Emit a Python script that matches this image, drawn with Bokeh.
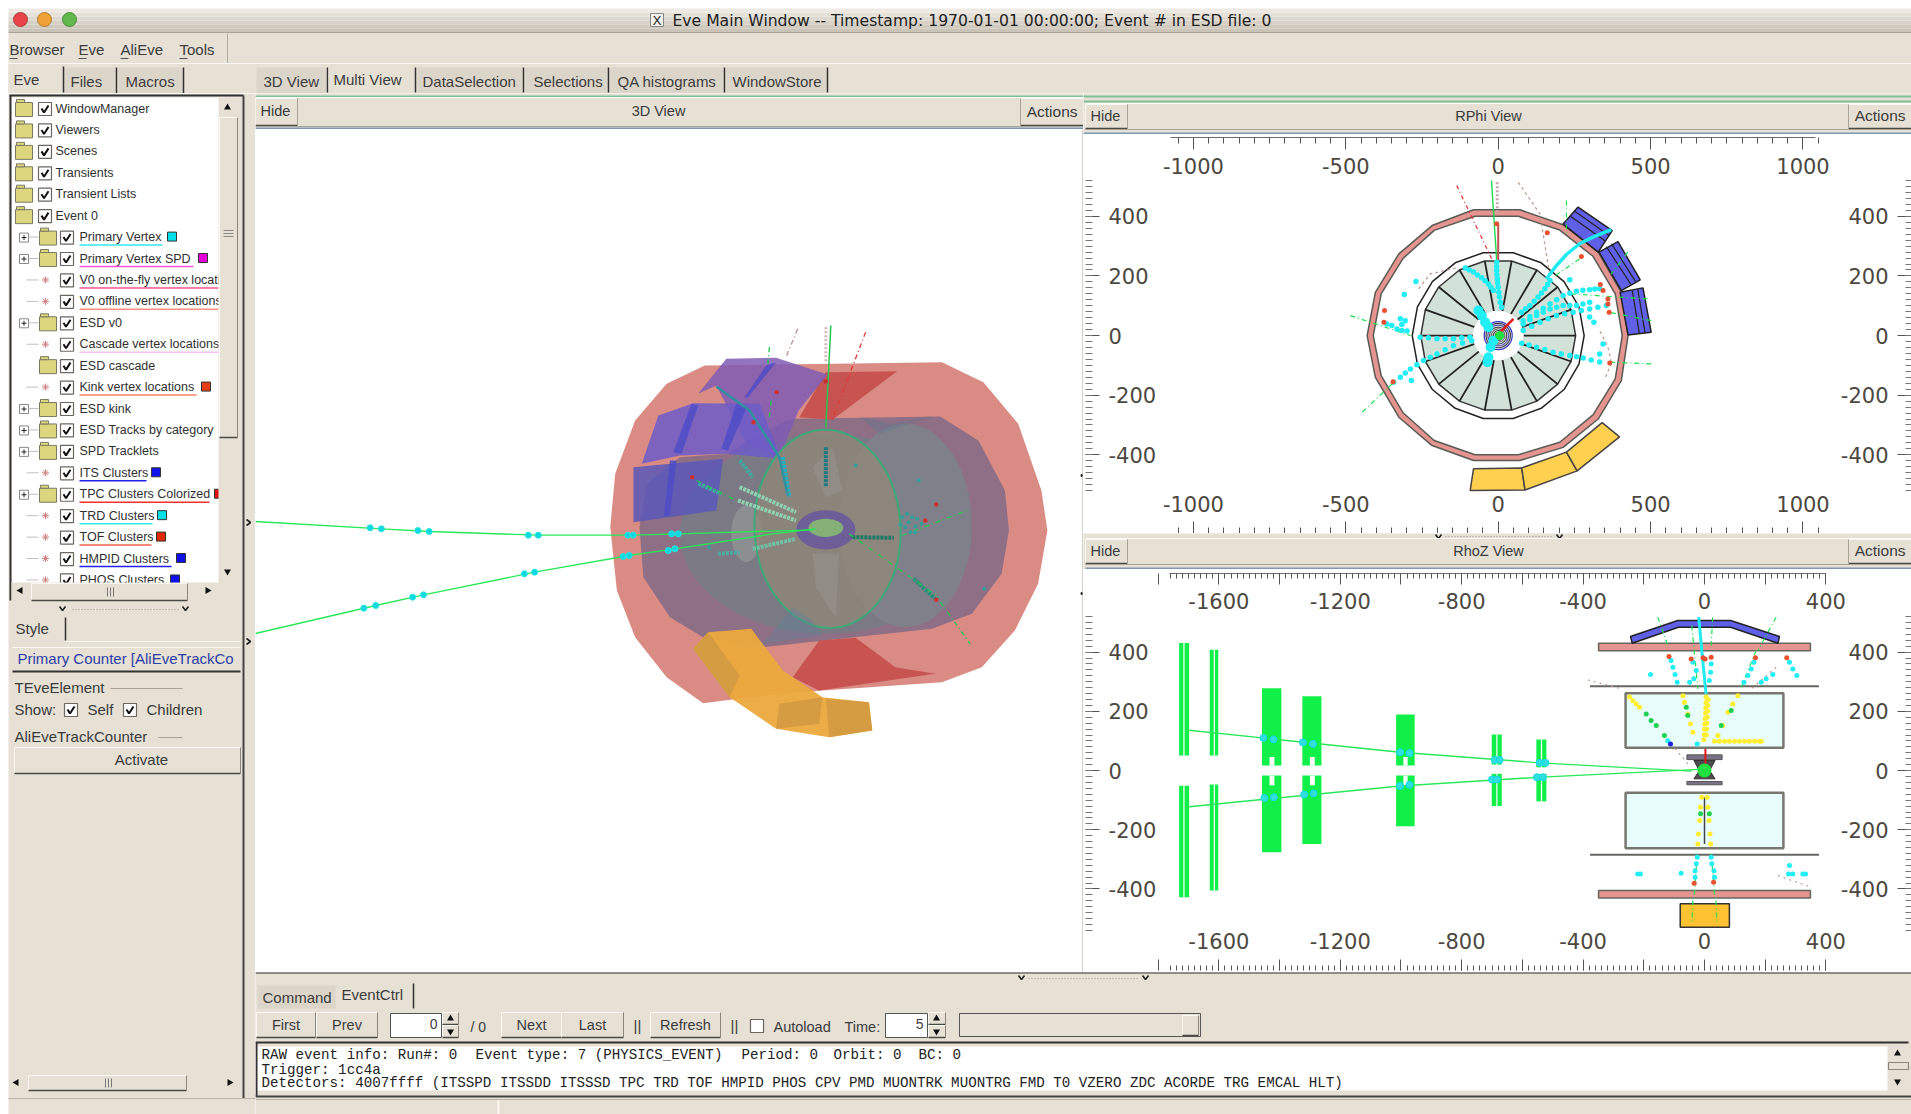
from bokeh.core.properties import value
from bokeh.embed import file_html
from bokeh.layouts import column, row
from bokeh.models import FixedTicker, LinearAxis, Range1d
from bokeh.plotting import figure
from bokeh.resources import INLINE
import numpy as np

# ---- window texts
window_title = "Eve Main Window -- Timestamp: 1970-01-01 00:00:00; Event # in ESD file: 0"
menu_items = ["Browser", "Eve", "AliEve", "Tools"]
left_tabs = ["Eve", "Files", "Macros"]
main_tabs = ["3D View", "Multi View", "DataSelection", "Selections", "QA histograms", "WindowStore"]
tree_labels = ["WindowManager", "Viewers", "Scenes", "Transients", "Transient Lists", "Event 0",
               "Primary Vertex", "Primary Vertex SPD", "V0 on-the-fly vertex location",
               "V0 offline vertex locations", "ESD v0", "Cascade vertex locations", "ESD cascade",
               "Kink vertex locations", "ESD kink", "ESD Tracks by category", "SPD Tracklets",
               "ITS Clusters", "TPC Clusters Colorized", "TRD Clusters", "TOF Clusters",
               "HMPID Clusters", "PHOS Clusters"]
# 0 top level, 1 folder with plus, 2 leaf, 3 folder without plus
tree_kinds = [0, 0, 0, 0, 0, 0, 1, 1, 2, 2, 1, 2, 3, 2, 1, 1, 1, 2, 1, 2, 2, 2, 2]
tree_lines = [None, None, None, None, None, None, "#30e8f0", "#ff50e0", "#ff5090", "#ff9080", None,
              "#ffc0f0", None, "#ff8060", None, None, None, "#2020f0", "#f03030", "#30e8f0",
              "#f06050", "#2020f0", "#2020f0"]
tree_ends = [0, 0, 0, 0, 0, 0, 162, 193, 218, 218, 0, 218, 0, 196, 0, 0, 0, 146, 209, 152, 151, 171, 165]
tree_swatches = [None, None, None, None, None, None, "#00e0e8", "#e800d8", None, None, None,
                 None, None, "#e83c14", None, None, None, "#1010e8", "#e01010", "#00e0e8",
                 "#e02800", "#1010e8", "#1010e8"]
event_parts = ["RAW event info: Run#: 0", "Event type: 7 (PHYSICS_EVENT)", "Period: 0", "Orbit: 0", "BC: 0"]
event_part_x = [261, 475, 741, 833, 918]
event_lines = ["Trigger: 1cc4a",
               "Detectors: 4007ffff (ITSSPD ITSSDD ITSSSD TPC TRD TOF HMPID PHOS CPV PMD MUONTRK MUONTRG FMD T0 VZERO ZDC ACORDE TRG EMCAL HLT)"]

# ---- RPhi view, axis values
rphi_x_ticks = [-1000, -500, 0, 500, 1000]
rphi_y_ticks = [-400, -200, 0, 200, 400]
rphi_x_minor = list(range(-1050, 1051, 50))
rphi_y_minor = list(range(-520, 521, 20))

# ---- RPhi detector outlines
tof_outer_x = [-81, 71, 213, 328, 404, 426, 404, 328, 213, 71, -81, -217, -326, -403, -430, -403, -326, -217]
tof_outer_y = [422, 422, 372, 280, 145, 0, -151, -280, -375, -419, -419, -369, -274, -140, 0, 145, 274, 369]
tof_inner_x = [-76, 66, 202, 311, 384, 407, 384, 311, 202, 66, -76, -210, -312, -384, -410, -384, -312, -210]
tof_inner_y = [400, 400, 354, 266, 140, 0, -145, -266, -358, -400, -400, -352, -259, -134, 0, 140, 259, 353]
trd_outer_x = [49, 141, 216, 265, 282, 265, 216, 141, 49, -49, -141, -216, -265, -282, -265, -216, -141, -49]
trd_outer_y = [278, 244, 181, 96, 0, -96, -181, -244, -278, -278, -244, -181, -96, 0, 96, 181, 244, 278]
tpc_outer_x = [44, 127, 195, 239, 254, 239, 195, 127, 44, -44, -127, -195, -239, -254, -239, -195, -127, -44]
tpc_outer_y = [250, 220, 163, 87, 0, -87, -163, -220, -250, -250, -220, -163, -87, 0, 87, 163, 220, 250]
tpc_inner_x = [14, 41, 63, 77, 82, 77, 63, 41, 14, -14, -41, -63, -77, -82, -77, -63, -41, -14]
tpc_inner_y = [81, 71, 53, 28, 0, -28, -53, -71, -81, -81, -71, -53, -28, 0, 28, 53, 71, 81]
its_radii = [6, 10, 16, 22, 28, 34, 40, 46]
its_ring_colors = ["#208020", "#208020", "#444444", "#666666", "#444444", "#5050b0", "#333333", "#3030c0"]
phos_x = [[-81, 77, 88, -92], [77, 224, 259, 88], [224, 341, 398, 259]]
phos_y = [[-447, -444, -518, -520], [-444, -391, -454, -518], [-391, -292, -340, -454]]
emcal_x = [[262, 374, 328, 213], [393, 466, 404, 331], [475, 502, 426, 400]]
emcal_y = [[431, 352, 280, 374], [315, 187, 151, 280], [160, 11, 2, 145]]
emcal_div_x = [[235, 350], [250, 365], [355, 435], [372, 450], [440, 463], [458, 482]]
emcal_div_y = [[402, 318], [418, 335], [298, 172], [308, 182], [150, 8], [155, 8]]

# ---- RPhi event
rphi_cluster_x = [-5, -5, -5, -4, -3, -2, 0, 2, 4, 7, 11,
                  -108, -95, -81, -68, -54, -43, -32, -24, -16,
                  77, 90, 104, 118, 131, 142, 153, 162, 170,
                  82, 104, 126, 148, 170, 192, 213, 235, 257, 278, 300, 317, 333,
                  82, 104, 126, 148, 170, 192, 213, 235, 257, 278, 300,
                  82, 110, 137, 164, 191, 218, 246, 273, 300, 327, 355,
                  314, 300, 344, 333,
                  77, 101, 126, 153, 180, 207, 235, 257, 279, 305, 333,
                  -256, -229, -201, -174, -147, -120, -93,
                  -87, -117, -147, -174, -201, -223, -245, -267, -288, -305, -321, -343,
                  -365, -349, -332, -316, -299, -321, -305, -316,
                  -270, -308, -285, 235]
rphi_cluster_y = [246, 232, 218, 204, 190, 176, 162, 145, 129, 112, 95,
                  227, 220, 213, 203, 194, 184, 173, 162, 151,
                  78, 90, 101, 115, 129, 143, 157, 171, 185,
                  50, 64, 78, 92, 106, 120, 134, 142, 149, 152, 154, 156, 157,
                  39, 53, 67, 78, 89, 95, 101, 101, 101, 106, 112,
                  17, 31, 45, 56, 67, 73, 78, 84, 89, 95, 101,
                  45, 62, -28, -62,
                  -26, -32, -39, -47, -56, -62, -67, -71, -75, -82, -89,
                  -6, -7, -11, -11, -11, -7, -6,
                  -17, -25, -34, -48, -62, -73, -84, -98, -112, -126, -140, -157,
                  39, 34, 22, 17, 15, 56, 50, 37,
                  181, 138, -151, 187]
rphi_big_x = [-65, -54, -43, -32, -16, -25, -32, -35]
rphi_big_y = [84, 67, 45, 28, -17, -39, -73, -89]
rphi_hit_x = [-373, -375, -345, -5, 161, 273, 344, 335, 360, 360, 364, 366]
rphi_hit_y = [84, 45, -155, 375, 345, 265, 151, 171, 123, 106, 78, -92]
rphi_arc_x = [158, 191, 224, 267, 311, 371]
rphi_arc_y = [190, 235, 272, 308, 330, 355]
rphi_green_x = [[-485, -288], [-446, -343], [502, 366], [224, 224], [425, 371], [490, 235], [502, 366], [267, 180]]
rphi_green_y = [[67, 0], [-257, -157], [-95, -89], [453, 341], [280, 207], [123, 140], [50, 78], [257, 196]]
rphi_brown_x = [[66, 137, 170], [371, 360, 333], [-261, -223, -136], [352, 371]]
rphi_brown_y = [[514, 408, 196], [-89, -39, 17], [157, 207, 227], [-139, -94]]

# ---- RhoZ view, axis values
rhoz_x_ticks = [-1800, -1600, -1400, -1200, -1000, -800, -600, -400, -200, 0, 200, 400]
rhoz_x_labelled = [-1600, -1200, -800, -400, 0, 400]
rhoz_y_ticks = [-400, -200, 0, 200, 400]
rhoz_x_minor = list(range(-1760, 401, 20))
rhoz_y_minor = list(range(-540, 531, 20))

# ---- RhoZ detectors
tof_rho = [430, 405]
trd_rho = [285, -284]
rhoz_tpc_top = [261, -75]
rhoz_tpc_bottom = [77, -262]
rhoz_emcal_x = [-244, -88, 86, 247, 242, 86, -86, -238]
rhoz_emcal_y = [453, 507, 507, 453, 430, 484, 484, 430]
rhoz_neck_x = [-35, 35, 17, 35, -35, -17]
rhoz_neck_y = [34, 34, 0, -28, -28, 0]
muon_left = [-1731, -1630, -1458, -1325, -1016, -701, -554, -1731, -1630, -1458, -1325, -1016, -701, -554]
muon_right = [-1698, -1602, -1394, -1262, -955, -668, -521, -1698, -1602, -1394, -1262, -955, -668, -521]
muon_top = [431, 408, 278, 251, 189, 122, 105, -51, -47, -17, -17, -17, -11, -11]
muon_bottom = [51, 51, 17, 17, 17, 20, 11, -428, -405, -276, -248, -188, -120, -104]
# slits between the strips of one station
gap_left = [-1717, -1617, -1433, -1300, -992, -686, -539, -1717, -1617, -1433, -1300, -992, -686, -539]
gap_right = [-1713, -1613, -1417, -1284, -978, -682, -535, -1713, -1613, -1417, -1284, -978, -682, -535]
gap_top = [431, 408, 46, 46, 46, 122, 105, -17, -17, -17, -17, -17, -11, -11]
gap_bottom = [51, 51, 17, 17, 17, 20, 11, -428, -405, -50, -50, -50, -120, -104]
beam_a_z = [-1707, -1003, -543, -43]
beam_a_rho = [137, 62, 26, -2]
beam_b_z = [-1698, -1003, -552, 0]
beam_b_rho = [-122, -52, -23, 5]
muon_hit_z = [-1453, -1420, -1323, -1290, -1003, -972, -691, -675, -543, -524,
              -1450, -1419, -1319, -1288, -1003, -972, -700, -684, -552, -533]
muon_hit_rho = [110, 105, 95, 90, 62, 59, 36, 36, 26, 26,
                -93, -90, -81, -77, -52, -48, -30, -30, -23, -23]
rhoz_cyan_z = [-110, -104, -97, -90, -38, -27, -35, -49, 22, 20, 16, 163, 154, 143, 130, 280, 291, 304,
               187, 203, 225, -178, -24, -27, -31, -31, 22, 24, 31, 33, -220, -211, -77, 280, 277, 291,
               324, 333, -121, -24]
rhoz_cyan_rho = [372, 349, 324, 298, 366, 338, 310, 298, 360, 332, 304, 366, 343, 321, 298, 366, 343, 321,
                 298, 310, 324, 324, -293, -315, -338, -360, -293, -315, -338, -360, -349, -349, -347, -321,
                 -349, -349, -349, -349, 101, 90]
rhoz_yellow_z = [-247, -236, -225, -214, -71, -66, -55, -46, -38,
                 5, 5, 4, 3, 2, 1, 0, -1, -2, 12, 11, 10, 9, 8, 7, 6,
                 110, 93, 77, 60, 44,
                 33, 49, 66, 82, 99, 115, 132, 148, 165, 181, 187,
                 -9, -13, -16, -20, -22, 9, 11, 15, 18, 20]
rhoz_yellow_rho = [248, 236, 225, 214, 253, 231, 191, 158, 129,
                   248, 230, 212, 194, 176, 158, 140, 122, 104, 240, 220, 200, 180, 160, 140, 120,
                   253, 225, 197, 152, 118,
                   99, 99, 99, 99, 99, 99, 99, 99, 99, 99, 99,
                   -90, -124, -169, -214, -248, -90, -124, -169, -214, -248]
rhoz_green_z = [-192, -176, -159, -132, -60, -55, 88, 55, -13, 16]
rhoz_green_rho = [191, 169, 152, 118, 214, 186, 203, 152, -146, -146]
rhoz_hit_z = [-117, -44, -5, 2, 22, 168, 271, -34, 30]
rhoz_hit_rho = [385, 377, 381, 377, 383, 381, 381, -381, -377]
rhoz_dash_x = [[-154, -121], [-42, -22], [27, 22], [236, 176], [170, 121], [-38, -42], [38, 41], [-24, -35], [22, 35]]
rhoz_dash_y = [[518, 422], [490, 276], [518, 422], [518, 405], [405, 281], [-439, -518], [-439, -518], [-281, -439], [-281, -439]]
rhoz_brown_x = [[-384, -275], [236, 154], [242, 346], [-110, -55]]
rhoz_brown_y = [[306, 276], [349, 276], [-355, -392], [90, 23]]

# ---- 3D view, projected outlines (scene units)
barrel_x = [435, 1150, 1275, 1380, 1450, 1468, 1440, 1370, 1270, 1150, 790, 570, 430, 320, 225, 170, 150, 165, 225, 320]
barrel_y = [195, 185, 245, 370, 570, 690, 850, 990, 1100, 1145, 1170, 1190, 1208, 1130, 1010, 870, 680, 520, 360, 250]
cylinder_x = [700, 1145, 1260, 1340, 1352, 1330, 1240, 1120, 610, 430, 330, 250, 238, 260, 360, 500, 660]
cylinder_y = [355, 348, 420, 570, 690, 820, 940, 985, 1040, 1010, 950, 830, 680, 550, 470, 460, 370]
wedge_top_x = [800, 1015, 820, 720]
wedge_top_y = [215, 212, 358, 350]
wedge_low_x = [780, 890, 1010, 1130, 780, 700]
wedge_low_y = [1020, 1012, 1100, 1120, 1170, 1130]
sector_x = [[760, 840, 830, 770], [760, 820, 850, 800], [610, 700, 760, 790], [905, 1000, 1130, 960]]
sector_y = [[760, 760, 950, 860], [500, 440, 570, 590], [1030, 920, 960, 1005], [350, 370, 345, 400]]
sector_colors = ["#9a9a94", "#9a9a98", "#5f7f98", "#5f7890"]
panel_x = [[415, 500, 650, 805, 718, 660, 560, 470],
           [295, 400, 600, 665, 500, 360, 245],
           [220, 490, 470, 220]]
panel_y = [[280, 175, 172, 222, 330, 470, 430, 255],
           [345, 308, 310, 475, 460, 465, 490],
           [500, 475, 630, 665]]
panel_colors = ["#7f5cb4", "#6c5cc8", "#5a58b8"]
panel_bar_x = [[330, 350, 330, 312], [395, 415, 365, 340], [565, 650, 620, 555], [530, 560, 505, 485]]
panel_bar_y = [[480, 480, 645, 645], [310, 315, 460, 455], [290, 185, 195, 290], [310, 325, 450, 445]]
phos3d_x = [445, 575, 670, 790, 930, 940, 810, 650, 510, 400]
phos3d_y = [995, 985, 1110, 1190, 1205, 1290, 1310, 1285, 1190, 1045]
phos3d_shade_x = [[445, 400, 510, 540], [650, 660, 790, 780], [800, 930, 940, 810]]
phos3d_shade_y = [[995, 1045, 1190, 1125], [1285, 1210, 1190, 1270], [1195, 1205, 1290, 1310]]
beam3d_x = [[-920, -540, -396, -67, 219, 355, 760], [-920, -557, -413, -78, 207, 345, 640, 770]]
beam3d_y = [[663, 685, 693, 704, 704, 700, 688], [999, 915, 883, 815, 765, 745, 700, 685]]
hit3d_x = [-574, -540, -430, -396, -97, -67, 203, 219, 335, 355, -593, -557, -446, -413, -109, -78, 189, 207, 325, 345]
hit3d_y = [682, 685, 690, 693, 704, 704, 704, 704, 700, 700, 923, 915, 890, 883, 820, 815, 768, 765, 750, 745]
strip3d_x = [[415, 485], [540, 710], [535, 710], [580, 710], [475, 540], [880, 1005], [1065, 1130], [540, 580], [670, 690], [800, 800]]
strip3d_y = [[550, 580], [560, 635], [600, 660], [745, 715], [760, 755], [710, 712], [835, 895], [480, 530], [470, 590], [440, 560]]
strip3d_colors = ["#40a8a0", "#90d0b0", "#90d0b0", "#70c0a8", "#50a8a0", "#207868", "#209078", "#40a8a0", "#20b0c0", "#207880"]
blob3d_x = [1030, 1045, 1060, 1075, 1088, 1040, 1055, 1070, 1025, 1050, 1070, 890, 1080, 1278, 448]
blob3d_y = [650, 640, 650, 655, 670, 680, 695, 695, 672, 665, 678, 495, 540, 865, 740]
red3d_x = [652, 800, 1133, 1100, 1133, 397, 582]
red3d_y = [275, 243, 612, 660, 898, 530, 365]
green3d_x = [[630, 625], [635, 630], [1145, 1235], [1030, 1225], [410, 530], [870, 1140]]
green3d_y = [[140, 190], [300, 350], [905, 1030], [705, 630], [540, 600], [700, 890]]
arc3d_x = [470, 570, 660, 685]
arc3d_y = [258, 330, 470, 585]

PANEL = "#e6e0d5"
FONT = "Liberation Sans"
AXIS_FONT = "DejaVu Sans"
MONO = "Liberation Mono"
RIGHT = 1911
LOW = 1114


def make_fig(x0, y0, x1, y1, bg=PANEL, xr=None, yr=None):
    p = figure(width=x1 - x0, height=y1 - y0,
               x_range=Range1d(*(xr or (x0, x1))), y_range=Range1d(*(yr or (y1, y0))),
               x_axis_type=None, y_axis_type=None, toolbar_location=None,
               output_backend="svg", min_border=0, outline_line_color=None,
               background_fill_color=bg, border_fill_color=bg)
    p.grid.visible = False
    return p


def box(p, x0, y0, x1, y1, fill=PANEL, line=None, w=1):
    p.quad(left=[x0], right=[x1], top=[y0], bottom=[y1], fill_color=fill, line_color=line, line_width=w)


def hline(p, x0, x1, y, color="#888888", w=1):
    p.line([x0, x1], [y, y], line_color=color, line_width=w)


def vline(p, x, y0, y1, color="#888888", w=1):
    p.line([x, x], [y0, y1], line_color=color, line_width=w)


def write(p, x, y, s, size=15, color="#3c3c3c", align="left", font=FONT):
    p.text([x], [y], text=[s], text_font=value(font), text_font_size=f"{size}px", text_align=align,
           text_baseline="middle", text_color=color)


def raised(p, x0, y0, x1, y1, fill=PANEL):
    box(p, x0, y0, x1, y1, fill)
    hline(p, x0, x1, y0, "#fbf9f4")
    vline(p, x0, y0, y1, "#fbf9f4")
    hline(p, x0, x1, y1, "#4a4a44", 1.5)
    vline(p, x1, y0, y1, "#8a867c")


def checkbox(p, x0, y0, s=13, checked=True):
    box(p, x0, y0, x0 + s, y0 + s, "#ffffff", "#6c6860", 1.2)
    if checked:
        p.line([x0 + 3, x0 + 5.5, x0 + s - 3], [y0 + 6, y0 + s - 3, y0 + 3], line_color="#111111", line_width=2)


def chevron(p, x, y, down=False):
    if down:
        p.line([x - 3, x, x + 3], [y - 2, y + 2, y - 2], line_color="#222222", line_width=1.6)
    else:
        p.line([x - 2, x + 2, x - 2], [y - 3, y, y + 3], line_color="#222222", line_width=1.6)


def triangle(p, x, y, angle):
    p.scatter([x], [y], marker="triangle", size=7, angle=angle, fill_color="#111111", line_color=None)


def view_header(p, x0, x1, y0, y1, title, tx):
    raised(p, x0, y0, x0 + 42, y1)
    box(p, x0 + 42, y0, x1 - 63, y1)
    raised(p, x1 - 63, y0, x1, y1)
    hline(p, x0, x1, y0 - 1, "#fbf9f4")
    hline(p, x0, x1, y1 + 1, "#a8a498")
    vline(p, x0 + 42, y0, y1, "#a8a498")
    vline(p, x1 - 63, y0, y1, "#a8a498")
    mid = (y0 + y1) / 2 - 0.8
    write(p, x0 + 5, mid, "Hide", 14.5)
    write(p, tx, mid, title, 14.5, align="center")
    write(p, x1 - 6, mid, "Actions", 15.5, align="right")


def inner_axes(p, x_ticks, y_ticks, x_minor, y_minor, x_labelled, x_bounds, y_bounds, loc, lens):
    # axes sit on the frame edges, ticks and labels point inward
    left, right, top, bottom = loc
    labels_x = {t: (str(t) if t in x_labelled else "") for t in x_ticks}
    labels_y = {t: str(t) for t in y_ticks}
    tk, tm = lens
    for side, where, line, off in (("below", top, "#6c6c6c", 8), ("above", bottom, None, 10)):
        ax = LinearAxis(fixed_location=where, bounds=x_bounds,
                        ticker=FixedTicker(ticks=x_ticks, minor_ticks=x_minor),
                        major_label_overrides=labels_x)
        ax.major_tick_in = 0
        ax.major_tick_out = tk
        ax.minor_tick_in = 0
        ax.minor_tick_out = tm
        ax.axis_line_color = line
        ax.major_tick_line_color = "#555555"
        ax.minor_tick_line_color = "#555555"
        ax.major_label_text_font = AXIS_FONT
        ax.major_label_text_font_size = "21px"
        ax.major_label_text_color = "#4c4840"
        ax.major_label_standoff = off
        p.add_layout(ax, side)
    for side, where, tick, minor, off in (("right", left, 14, 7, 9), ("left", right, 14, 6, 9)):
        ax = LinearAxis(fixed_location=where, bounds=y_bounds,
                        ticker=FixedTicker(ticks=y_ticks, minor_ticks=y_minor),
                        major_label_overrides=labels_y)
        ax.major_tick_in = 0
        ax.major_tick_out = tick
        ax.minor_tick_in = 0
        ax.minor_tick_out = minor
        ax.axis_line_color = None
        ax.major_tick_line_color = "#555555"
        ax.minor_tick_line_color = "#777777"
        ax.major_label_text_font = AXIS_FONT
        ax.major_label_text_font_size = "21px"
        ax.major_label_text_color = "#4c4840"
        ax.major_label_standoff = off
        p.add_layout(ax, side)


# ---- top of the window
top = make_fig(0, 0, RIGHT, 93, bg="#ffffff")
for y0, c in zip(range(8, 32, 4), ["#eee9e2", "#e6e1d9", "#ded9d0", "#d7d1c8", "#d0cabf", "#cac4b9"]):
    box(top, 8, y0, RIGHT, y0 + 4, c)
box(top, 8, 32, RIGHT, 93)
hline(top, 8, RIGHT, 32, "#a8a498")
top.scatter([20, 44, 69], [19, 19, 19], size=14, fill_color=["#e8444a", "#f0a238", "#62b84c"],
            line_color=["#a84040", "#b08030", "#4c8c40"])
box(top, 650, 13, 663, 26, "#f2f0ea", "#888888")
write(top, 656.5, 19.5, "X", 13, "#222222", "center")
write(top, 672, 20, window_title, 15.6, "#222222", font="DejaVu Sans")
vline(top, 227, 33, 63, "#b0ac9f")
for x, s in zip([9, 78, 120, 179], menu_items):
    write(top, x, 49, s, 15)
    hline(top, x, x + 8, 58, "#555555")
hline(top, 8, RIGHT, 63, "#fbf9f4")
for x0, x1, tx, s in zip([63, 118], [116, 183], [70, 125], left_tabs[1:]):
    box(top, x0, 67, x1, 93, "#dcd6ca")
    vline(top, x1, 67, 93, "#333333", 1.5)
    write(top, tx, 81, s, 15)
box(top, 8, 64, 63, 93)
vline(top, 63, 66, 92, "#333333", 1.5)
write(top, 13, 79, left_tabs[0], 15)
tab_x0 = [256, 328, 417, 525, 610, 726]
tab_x1 = [327, 415, 523, 608, 724, 827]
tab_text = [263, 333, 422, 533, 617, 732]
for i, s in enumerate(main_tabs):
    if i != 1:
        box(top, tab_x0[i], 67, tab_x1[i], 93, "#dcd6ca")
        write(top, tab_text[i], 81, s, 15)
    else:
        box(top, tab_x0[i], 64, tab_x1[i], 93)
        write(top, tab_text[i], 79, s, 15)
    vline(top, tab_x1[i], 67, 92, "#333333", 1.5)

# ---- left column
side = make_fig(0, 93, 255, LOW, bg="#ffffff")
box(side, 8, 93, 255, LOW)
box(side, 11, 97, 238, 600, "#ffffff")
hline(side, 9, 243, 95, "#333333", 2)
vline(side, 10, 95, 600, "#333333", 2)
vline(side, 243, 95, 1098, "#444444", 2)
for i, s in enumerate(tree_labels):
    y = 108 + 21.43 * i
    kind = tree_kinds[i]
    if kind == 0:
        fx, cx, tx = 15, 38, 55
    else:
        fx, cx, tx = 39, 60, 79
    if kind == 2:
        hline(side, 26, 38, y, "#c0c0c0")
        side.scatter([45], [y], marker="asterisk", size=7, line_color="#d08080")
    else:
        box(side, fx, y - 6, fx + 17, y + 8, "#dcd67e", "#7a7a60")
        box(side, fx + 1, y - 9, fx + 9, y - 6, "#dcd67e", "#7a7a60")
    if kind == 1:
        box(side, 19, y - 4, 28, y + 5, "#ffffff", "#888888")
        hline(side, 21, 26, y + 0.5, "#222222")
        vline(side, 23.5, y - 2, y + 3, "#222222")
        hline(side, 28, 38, y, "#c0c0c0")
    checkbox(side, cx, y - 6, 13)
    write(side, tx, y, s, 12.5, "#303030")
    if tree_lines[i]:
        hline(side, tx, tree_ends[i], y + 8, tree_lines[i], 1.5)
    if tree_swatches[i]:
        sx = tree_ends[i] + 5
        box(side, sx, y - 5, sx + 9, y + 4, tree_swatches[i], "#333333")
box(side, 218, 97, 240, 600)
box(side, 11, 582, 240, 604)
raised(side, 219, 117, 237, 437)
triangle(side, 227, 107, 0)
triangle(side, 227, 571, np.pi)
raised(side, 31, 583, 187, 600)
for x in [107, 110, 113]:
    vline(side, x, 587, 596, "#777777")
triangle(side, 20, 590, np.pi / 2)
triangle(side, 207, 590, -np.pi / 2)
for y in [230, 233, 236]:
    hline(side, 223, 233, y, "#888888")
chevron(side, 62, 608, True)
chevron(side, 185, 608, True)
side.line([72, 178], [609, 609], line_color="#999999", line_dash="1 2")
chevron(side, 248, 522)
chevron(side, 248, 641)
vline(side, 65, 617, 640, "#333333", 1.5)
hline(side, 65, 240, 641, "#fbf9f4")
write(side, 15, 628, "Style", 15)
hline(side, 12, 240, 647, "#fbf9f4")
hline(side, 12, 240, 671, "#333333", 2)
write(side, 17, 658, "Primary Counter [AliEveTrackCo", 15, "#2e3fa8")
write(side, 14, 687, "TEveElement", 15)
hline(side, 110, 182, 688, "#a8a498")
write(side, 14, 709, "Show:", 15)
checkbox(side, 64, 703)
write(side, 87, 709, "Self", 15)
checkbox(side, 123, 703)
write(side, 146, 709, "Children", 15)
write(side, 14, 736, "AliEveTrackCounter", 15)
hline(side, 158, 182, 737, "#a8a498")
raised(side, 14, 747, 240, 773)
write(side, 141, 759, "Activate", 15, align="center")
raised(side, 28, 1075, 186, 1090)
for x in [105, 108, 111]:
    vline(side, x, 1078, 1087, "#777777")
triangle(side, 16, 1082, np.pi / 2)
triangle(side, 229, 1082, -np.pi / 2)
hline(side, 8, 255, 1098, "#b8b4a8")

# ---- 3D view
head3d = make_fig(255, 93, 1083, 129)
hline(head3d, 255, 1083, 96, "#80c098", 2)
view_header(head3d, 255, 1083, 98, 125, "3D View", 658)
hline(head3d, 255, 1083, 128, "#7d9ab4", 2)

scene = make_fig(255, 129, 1083, 972, bg="#ffffff",
                 xr=((255 - 560) * 3.015, (1083 - 560) * 3.015), yr=((972 - 300) * 3, (129 - 300) * 3))
scene.patch(barrel_x, barrel_y, fill_color="#da8c84", line_color=None)
scene.patch(cylinder_x, cylinder_y, fill_color="#8e6f86", line_color=None)
scene.ellipse([800], [700], width=880, height=600, fill_color="#7b7a84", line_color=None)
scene.ellipse([1040], [675], width=400, height=610, fill_color="#80808a", line_color=None)
scene.ellipse([560], [700], width=90, height=170, fill_color="#8c8e92", line_color=None)
scene.patch(wedge_top_x, wedge_top_y, fill_color="#c85452", line_color=None)
scene.patch(wedge_low_x, wedge_low_y, fill_color="#c85452", line_color=None)
scene.patches(panel_x, panel_y, fill_color=panel_colors, fill_alpha=0.85, line_color=None)
scene.patches(panel_bar_x, panel_bar_y, fill_color="#4f4cc8", fill_alpha=0.85, line_color=None)
scene.ellipse([805], [685], width=440, height=595, angle=0.05, fill_color="#908878", fill_alpha=0.75,
              line_color="#3ea878", line_width=2)
scene.patches(sector_x, sector_y, fill_color=sector_colors, fill_alpha=0.4, line_color=None)
scene.ellipse([800], [688], width=178, height=118, fill_color="#6e5e98", line_color=None)
scene.ellipse([800], [682], width=105, height=55, fill_color="#84b078", line_color=None)
scene.multi_line(strip3d_x, strip3d_y, line_color=strip3d_colors, line_width=4, line_dash="3 1")
scene.line(arc3d_x, arc3d_y, line_color="#3090a0", line_width=2.5)
scene.multi_line(green3d_x, green3d_y, line_color="#22c850", line_width=1.3, line_dash="5 3 1 3")
scene.line([815, 800], [75, 380], line_color="#22c850", line_width=1.5)
scene.line([920, 820], [95, 355], line_color="#e03838", line_width=1.3, line_dash="5 3 1 3")
scene.line([715, 680], [85, 170], line_color="#c09090", line_width=1.3, line_dash="5 3 1 3")
scene.line([800, 800], [80, 185], line_color="#d8b8b8", line_width=3, line_dash="2 2")
scene.scatter(blob3d_x, blob3d_y, size=4, fill_color="#30a098", line_color=None)
scene.scatter(red3d_x, red3d_y, size=4.5, fill_color="#cc3030", line_color=None)
scene.patch(phos3d_x, phos3d_y, fill_color="#eca93c", fill_alpha=0.95, line_color=None)
scene.patches(phos3d_shade_x, phos3d_shade_y, fill_color="#d29a40", fill_alpha=0.9, line_color=None)
scene.multi_line(beam3d_x, beam3d_y, line_color="#28e858", line_width=1.4)
scene.scatter(hit3d_x, hit3d_y, size=6, fill_color="#10d8e0", line_color="#20e8e0")
vline(scene, 1576, -513, 2016, "#c8c4b8", 2)
chevron(scene, (1081 - 560) * 3.015, (475 - 300) * 3)
chevron(scene, (1081 - 560) * 3.015, (593 - 300) * 3)

# ---- RPhi view
head_rphi = make_fig(1083, 93, RIGHT, 134)
hline(head_rphi, 1083, RIGHT, 96, "#80c098", 2)
hline(head_rphi, 1083, RIGHT, 101, "#80c098", 2)
view_header(head_rphi, 1085, RIGHT, 104, 128, "RPhi View", 1488)
hline(head_rphi, 1083, RIGHT, 133, "#7d9ab4", 2)

rphi = make_fig(1083, 134, RIGHT, 533, bg="#ffffff", xr=(-1360.6, 1356), yr=(-664, 674.5))
inner_axes(rphi, rphi_x_ticks, rphi_y_ticks, rphi_x_minor, rphi_y_minor, rphi_x_ticks,
           (-1075, 1040), (-520, 527), (-1354, 1356, 664, -664), (12, 6))
rphi.patch(tof_outer_x, tof_outer_y, fill_color="#e69490", line_color="#5a5a55", line_width=1.5)
rphi.patch(tof_inner_x, tof_inner_y, fill_color="#ffffff", line_color="#5a5a55", line_width=1.5)
rphi.patch(trd_outer_x, trd_outer_y, fill_color="#ffffff", line_color="#222222", line_width=1.5)
rphi.patch(tpc_outer_x, tpc_outer_y, fill_color="#d3e2d8", line_color="#333333", line_width=1.5)
rphi.segment(tpc_inner_x, tpc_inner_y, tpc_outer_x, tpc_outer_y, line_color="#222222", line_width=1.8)
rphi.patch(tpc_inner_x, tpc_inner_y, fill_color="#ffffff", line_color="#ffffff")
rphi.circle([0] * len(its_radii), [0] * len(its_radii), radius=its_radii, fill_color=None,
            line_color=its_ring_colors, line_width=1.2)
rphi.patches(phos_x, phos_y, fill_color="#ffd050", line_color="#444444", line_width=1.5)
rphi.patches(emcal_x, emcal_y, fill_color="#5f5fe8", line_color="#222222", line_width=1.5)
rphi.multi_line(emcal_div_x, emcal_div_y, line_color="#222222", line_width=1.2)
rphi.multi_line(rphi_green_x, rphi_green_y, line_color="#20e050", line_width=1.2, line_dash="5 3 1 3")
rphi.multi_line(rphi_brown_x, rphi_brown_y, line_color="#c09a90", line_width=1.2, line_dash="3 3")
rphi.line([-22, -5], [520, 252], line_color="#20d850", line_width=1.4)
rphi.line([-136, -16], [503, 246], line_color="#e83030", line_width=1.2, line_dash="4 3 1 3")
rphi.line([-3, -3], [514, 408], line_color="#c8a8a8", line_width=3, line_dash="2 2")
rphi.line([0, 0], [375, 252], line_color="#c05050", line_width=2)
rphi.line(rphi_arc_x, rphi_arc_y, line_color="#20eaf2", line_width=3.5)
rphi.scatter(rphi_cluster_x, rphi_cluster_y, size=5.5, fill_color="#22eef5", line_color=None)
rphi.scatter(rphi_big_x, rphi_big_y, size=10, fill_color="#22eef5", line_color=None)
rphi.scatter(rphi_hit_x, rphi_hit_y, size=5, fill_color="#e85030", line_color=None)
rphi.line([-5, 50], [0, 56], line_color="#e01818", line_width=2.5)
rphi.scatter([5], [0], size=9, fill_color="#20e040", line_color=None)

# ---- RhoZ view
head_rhoz = make_fig(1083, 533, RIGHT, 569)
chevron(head_rhoz, 1438, 536, True)
chevron(head_rhoz, 1559, 536, True)
head_rhoz.line([1445, 1553], [536, 536], line_color="#999999", line_dash="1 2")
view_header(head_rhoz, 1085, RIGHT, 539, 563, "RhoZ View", 1488)
hline(head_rhoz, 1085, RIGHT, 568, "#7d9ab4", 2)

rhoz = make_fig(1083, 569, RIGHT, 972, bg="#ffffff", xr=(-2046, 682), yr=(-682, 679))
inner_axes(rhoz, rhoz_x_ticks, rhoz_y_ticks, rhoz_x_minor, rhoz_y_minor, rhoz_x_labelled,
           (-1762, 400), (-540, 530), (-2039, 682, 665, -675), (11, 5))
rhoz.quad(left=muon_left, right=muon_right, top=muon_top, bottom=muon_bottom, fill_color="#10f048", line_color=None)
rhoz.quad(left=gap_left, right=gap_right, top=gap_top, bottom=gap_bottom, fill_color="#ffffff", line_color=None)
rhoz.quad(left=[-349, -349], right=[349, 349], top=[tof_rho[0], -tof_rho[1]], bottom=[tof_rho[1], -tof_rho[0]],
          fill_color="#e69490", line_color="#666660", line_width=1.5)
rhoz.segment([-377, -377], trd_rho, [377, 377], trd_rho, line_color="#666660", line_width=2)
rhoz.quad(left=[-260, -260], right=[260, 260], top=rhoz_tpc_top, bottom=rhoz_tpc_bottom,
          fill_color="#e8fcfc", line_color="#777770", line_width=2.5)
rhoz.patch(rhoz_emcal_x, rhoz_emcal_y, fill_color="#5f5fe8", line_color="#222222", line_width=1.5)
rhoz.quad(left=[-80], right=[82], top=[-450], bottom=[-529], fill_color="#ffc233", line_color="#333333", line_width=1.5)
rhoz.quad(left=[-58, -58], right=[58, 58], top=[53, -37], bottom=[37, -48], fill_color="#7a7286", line_color="#555555")
rhoz.patch(rhoz_neck_x, rhoz_neck_y, fill_color="#4c4c4c", line_color="#333333")
rhoz.line([0, 0], [-90, -248], line_color="#444444", line_width=1.5)
rhoz.multi_line(rhoz_dash_x, rhoz_dash_y, line_color="#20e050", line_width=1.2, line_dash="5 3 1 3")
rhoz.multi_line(rhoz_brown_x, rhoz_brown_y, line_color="#c09a90", line_width=1.2, line_dash="2 4")
rhoz.line([-19, -9, 5], [518, 405, 259], line_color="#20eaf2", line_width=3)
rhoz.line([3, 3], [73, 23], line_color="#e01818", line_width=2)
rhoz.scatter(rhoz_yellow_z, rhoz_yellow_rho, size=5, fill_color="#ffee30", line_color=None)
rhoz.scatter(rhoz_green_z, rhoz_green_rho, size=5, fill_color="#20d050", line_color=None)
rhoz.scatter(rhoz_cyan_z, rhoz_cyan_rho, size=5, fill_color="#22eef5", line_color=None)
rhoz.scatter(rhoz_hit_z, rhoz_hit_rho, size=5, fill_color="#e85030", line_color=None)
rhoz.scatter([-112], [90], size=5, fill_color="#2020e0", line_color=None)
rhoz.line(beam_a_z, beam_a_rho, line_color="#28e858", line_width=1.4)
rhoz.line(beam_b_z, beam_b_rho, line_color="#28e858", line_width=1.4)
rhoz.scatter(muon_hit_z, muon_hit_rho, size=7, fill_color="#30e0e0", line_color="#10d8e8")
rhoz.scatter([0], [0], size=14, fill_color="#20e040", line_color=None)

# ---- bottom strip
bottom = make_fig(255, 972, RIGHT, LOW)
hline(bottom, 255, RIGHT, 972, "#333333", 2)
chevron(bottom, 1021, 977, True)
chevron(bottom, 1145, 977, True)
bottom.line([1028, 1138], [978, 978], line_color="#999999", line_dash="1 2")
box(bottom, 257, 985, 335, 1008, "#dcd6ca")
write(bottom, 262, 997, "Command", 15)
vline(bottom, 413, 983, 1008, "#333333", 1.5)
write(bottom, 341, 994, "EventCtrl", 15)
for x0, x1, s in zip([256, 316, 501, 561, 650], [315, 377, 561, 623, 720], ["First", "Prev", "Next", "Last", "Refresh"]):
    raised(bottom, x0, 1012, x1, 1037)
    write(bottom, (x0 + x1) / 2, 1024, s, 14.5, align="center")
box(bottom, 390, 1013, 441, 1037, "#ffffff", "#555555")
write(bottom, 437, 1023, "0", 14, align="right")
raised(bottom, 442, 1012, 458, 1024)
raised(bottom, 442, 1025, 458, 1037)
write(bottom, 470, 1026, "/ 0", 14)
write(bottom, 637, 1025, "||", 15, align="center")
write(bottom, 734, 1025, "||", 15, align="center")
checkbox(bottom, 750, 1019, 13, False)
write(bottom, 773, 1026, "Autoload", 14.5)
write(bottom, 844, 1026, "Time:", 14.5)
box(bottom, 885, 1013, 927, 1037, "#ffffff", "#555555")
write(bottom, 923, 1023, "5", 14, align="right")
raised(bottom, 928, 1012, 945, 1024)
raised(bottom, 928, 1025, 945, 1037)
for cx, cy, ang in [(450, 1018, 0), (450, 1031, np.pi), (936, 1018, 0), (936, 1031, np.pi)]:
    triangle(bottom, cx, cy, ang)
box(bottom, 959, 1013, 1200, 1036, PANEL, "#555555")
raised(bottom, 1182, 1015, 1198, 1035)
box(bottom, 257, 1046, 1887, 1090, "#ffffff")
hline(bottom, 255, 1908, 1042, "#333333", 2)
vline(bottom, 256, 1042, 1096, "#333333", 2)
hline(bottom, 255, RIGHT, 1096, "#444444", 2)
for x, s in zip(event_part_x, event_parts):
    write(bottom, x, 1054.5, s, 14.2, "#222222", font=MONO)
for y, s in zip([1069, 1082.5], event_lines):
    write(bottom, 261, y, s, 14.2, "#222222", font=MONO)
box(bottom, 1888, 1062, 1908, 1069, PANEL, "#8a867c", 1.2)
triangle(bottom, 1897, 1053, 0)
triangle(bottom, 1897, 1081, np.pi)
hline(bottom, 255, RIGHT, 1099, "#b8b4a8")
vline(bottom, 498, 1100, LOW, "#fbf9f4", 2)

right_col = column(head_rphi, rphi, head_rhoz, rhoz, spacing=0)
middle = row(column(head3d, scene, spacing=0), right_col, spacing=0)
page = column(top, row(side, column(middle, bottom, spacing=0), spacing=0), spacing=0)

open("out.html", "w").write(file_html(page, INLINE))
